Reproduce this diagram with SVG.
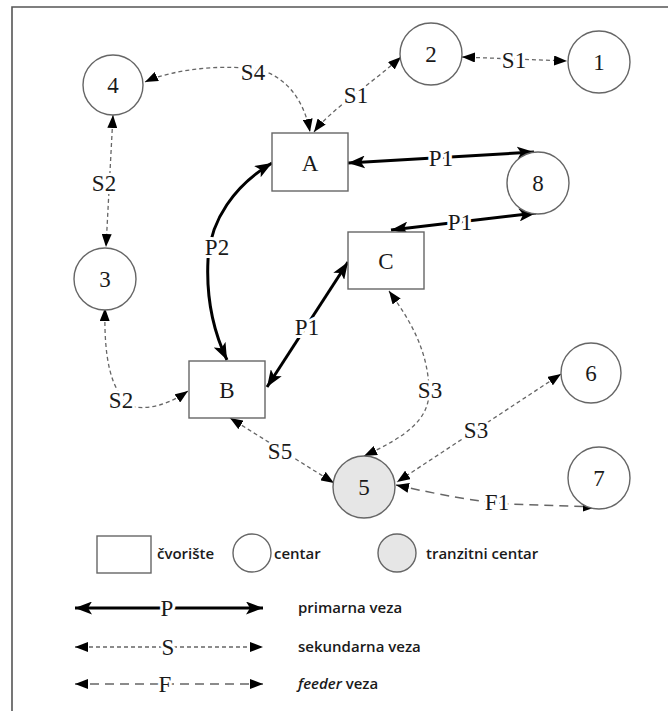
<svg xmlns="http://www.w3.org/2000/svg" width="668" height="711" viewBox="0 0 668 711">
<style>
.node{fill:#fff;stroke:#666;stroke-width:1.4}
.tr{fill:#e6e6e6;stroke:#666;stroke-width:1.4}
.nt{font-family:'Liberation Serif','DejaVu Serif','Times New Roman',serif;font-size:23px;fill:#1a1a1a;text-anchor:middle;dominant-baseline:central}
.lt{font-family:'Liberation Serif','DejaVu Serif','Times New Roman',serif;font-size:23px;fill:#1a1a1a;text-anchor:middle;dominant-baseline:central;paint-order:stroke;stroke:#fff;stroke-width:6px;stroke-linejoin:round}
.p{fill:none;stroke:#000;stroke-width:3;marker-start:url(#ahb);marker-end:url(#ahb)}
.s{fill:none;stroke:#666;stroke-width:1.3;stroke-dasharray:4 3;marker-start:url(#ah);marker-end:url(#ah)}
.f{fill:none;stroke:#666;stroke-width:1.5;stroke-dasharray:9 6;marker-start:url(#ah);marker-end:url(#ah)}
.leg{font-family:'Open Sans','Noto Sans',sans-serif;font-size:15px;font-weight:600;fill:#1a1a1a}
</style>
<defs>
<marker id="ah" viewBox="0 0 13 10" refX="13" refY="5" markerWidth="13" markerHeight="10" markerUnits="userSpaceOnUse" orient="auto-start-reverse"><path d="M0,0 L13,5 L0,10 z" fill="#000"/></marker>
<marker id="ahb" viewBox="0 0 17 13" refX="17" refY="6.5" markerWidth="17" markerHeight="13" markerUnits="userSpaceOnUse" orient="auto-start-reverse"><path d="M0,0 L17,6.5 L0,13 L4,6.5 z" fill="#000"/></marker>
</defs>
<rect width="668" height="711" fill="#fff"/>
<path d="M12,711 L12,7 L668,7" fill="none" stroke="#555" stroke-width="1.6"/>

<g id="connectors">
<path class="s" d="M145,82 C175,68 230,64 260,70 C290,78 305,105 310,132"/>
<text class="lt" x="253" y="72">S4</text>
<path class="s" d="M314,132 C330,110 370,85 401,57"/>
<text class="lt" x="356" y="95">S1</text>
<path class="s" d="M462,57 L567,61"/>
<text class="lt" x="514" y="60">S1</text>
<path class="s" d="M113,115 L106,247"/>
<text class="lt" x="104" y="183">S2</text>
<path class="p" d="M348,163 L534,152"/>
<text class="lt" x="441" y="158">P1</text>
<path class="p" d="M391,230 L536,213"/>
<text class="lt" x="460" y="222">P1</text>
<path class="p" d="M272,163 C235,185 210,220 208,260 C206,300 215,335 227,360"/>
<text class="lt" x="217" y="247">P2</text>
<path class="p" d="M267,387 L348,262"/>
<text class="lt" x="307" y="327">P1</text>
<path class="s" d="M105,308 C104,350 108,395 135,407 C155,410 175,400 188,391"/>
<text class="lt" x="121" y="400">S2</text>
<path class="s" d="M230,418 L334,483"/>
<text class="lt" x="280" y="451">S5</text>
<path class="s" d="M389,291 C410,320 428,350 429,390 C430,420 405,437 364,456"/>
<text class="lt" x="430" y="390">S3</text>
<path class="s" d="M561,374 L397,482"/>
<text class="lt" x="476" y="430">S3</text>
<path class="f" d="M396,485 C440,495 480,502 510,504 L596,507"/>
<text class="lt" x="497" y="502">F1</text>
</g>

<g id="A"><rect class="node" x="272" y="133" width="76" height="58"/><text class="nt" x="310" y="163">A</text></g>
<g id="B"><rect class="node" x="189" y="361" width="76" height="57"/><text class="nt" x="227" y="390">B</text></g>
<g id="C"><rect class="node" x="348" y="232" width="76" height="57"/><text class="nt" x="386" y="261">C</text></g>
<g id="n1"><circle class="node" cx="599" cy="62" r="31"/><text class="nt" x="599" y="62">1</text></g>
<g id="n2"><circle class="node" cx="431" cy="54" r="31"/><text class="nt" x="431" y="54">2</text></g>
<g id="n3"><circle class="node" cx="105" cy="279" r="31"/><text class="nt" x="105" y="279">3</text></g>
<g id="n4"><circle class="node" cx="113" cy="85" r="30"/><text class="nt" x="113" y="85">4</text></g>
<g id="n5"><circle class="tr" cx="364" cy="487" r="31"/><text class="nt" x="364" y="487">5</text></g>
<g id="n6"><circle class="node" cx="591" cy="373" r="30"/><text class="nt" x="591" y="373">6</text></g>
<g id="n7"><circle class="node" cx="599" cy="478" r="31"/><text class="nt" x="599" y="478">7</text></g>
<g id="n8"><circle class="node" cx="538" cy="183" r="31"/><text class="nt" x="538" y="183">8</text></g>

<g id="legend">
<rect class="node" x="97" y="536" width="54" height="37"/>
<text class="leg" x="157" y="559">čvorište</text>
<circle class="node" cx="252" cy="553" r="19"/>
<text class="leg" x="274" y="559">centar</text>
<circle class="tr" cx="397" cy="553" r="19"/>
<text class="leg" x="426" y="559">tranzitni centar</text>
<path class="p" d="M75,608 L263,608"/>
<text class="lt" x="167" y="608">P</text>
<text class="leg" x="298" y="613">primarna veza</text>
<path class="s" d="M75,647 L263,647"/>
<text class="lt" x="168" y="647">S</text>
<text class="leg" x="298" y="652">sekundarna veza</text>
<path class="f" d="M75,684 L263,684"/>
<text class="lt" x="165" y="684">F</text>
<text class="leg" x="298" y="689"><tspan font-style="italic">feeder</tspan> veza</text>
</g>
</svg>
